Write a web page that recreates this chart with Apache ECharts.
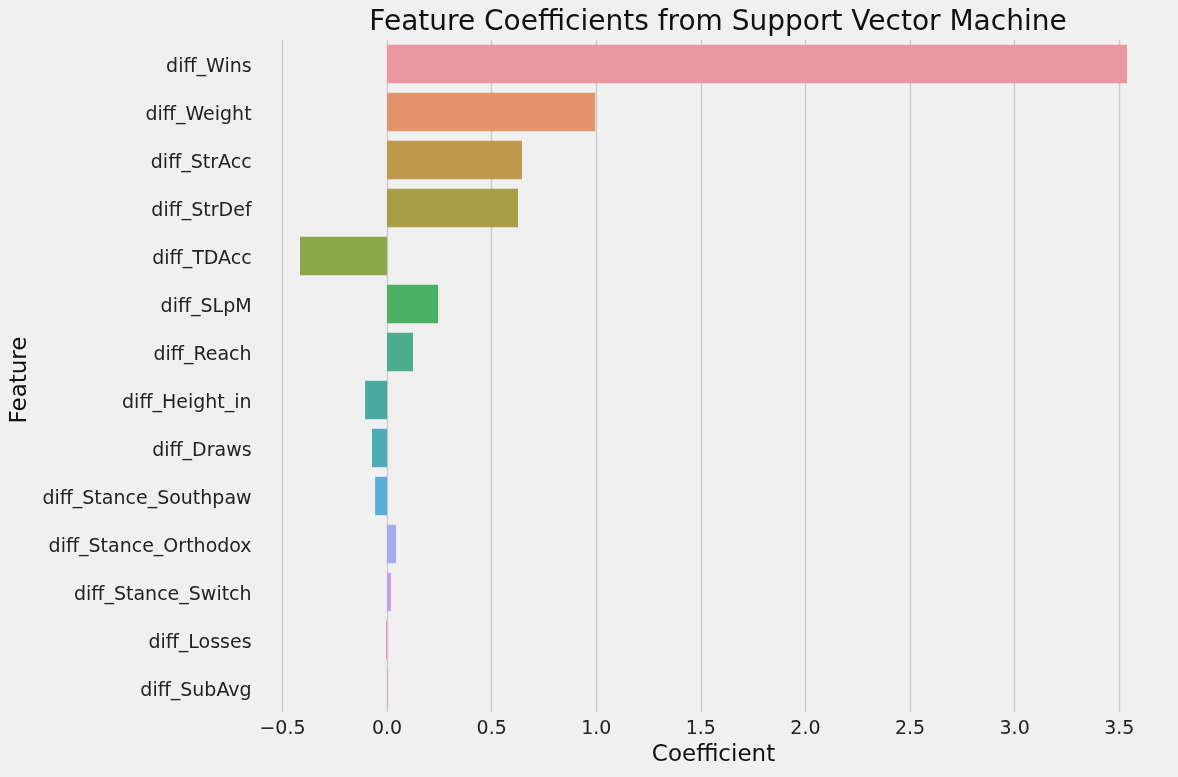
<!DOCTYPE html>
<html>
<head>
<meta charset="utf-8">
<script src="https://cdn.jsdelivr.net/npm/echarts@6/dist/echarts.min.js"></script>
<style>
html,body{margin:0;padding:0;background:#f0f0f0;}
#chart{width:1178px;height:777px;}
</style>
</head>
<body>
<div id="chart"></div>
<script>
const features = ['diff_Wins','diff_Weight','diff_StrAcc','diff_StrDef','diff_TDAcc','diff_SLpM','diff_Reach','diff_Height_in','diff_Draws','diff_Stance_Southpaw','diff_Stance_Orthodox','diff_Stance_Switch','diff_Losses','diff_SubAvg'];
const coefficients = [3.537, 0.995, 0.645, 0.626, -0.416, 0.244, 0.124, -0.105, -0.072, -0.057, 0.043, 0.019, -0.005, 0.003];
const xTicks = [-0.5, 0.0, 0.5, 1.0, 1.5, 2.0, 2.5, 3.0, 3.5];
const palette = ['#EB96A3','#E3946C','#C1994C','#A69F46','#8AA84A','#4BB063','#4BAD8E','#4BAAA0','#4EACB8','#59AED8','#A3ABEA','#C8A0E8','#E98CE3','#E68FBF'];

const chart = echarts.init(document.getElementById('chart'), null, {renderer:'canvas'});
const font = 'DejaVu Sans';
chart.setOption({
  backgroundColor:'#f0f0f0',
  animation:false,
  title:{
    text:'Feature Coefficients from Support Vector Machine',
    left:713, top:4, textAlign:'center',
    textStyle:{fontFamily:font,fontSize:28,fontWeight:'normal',color:'#111'}
  },
  grid:{left:258.6,right:9.6,top:40,bottom:65,containLabel:false},
  xAxis:{
    type:'value', min:-0.614, max:3.735,
    name:'Coefficient', nameLocation:'middle', nameGap:30,
    nameTextStyle:{fontFamily:font,fontSize:23,color:'#111',verticalAlign:'top'},
    axisLine:{show:false},
    axisTick:{show:false,customValues:xTicks},
    axisLabel:{customValues:xTicks,fontFamily:font,fontSize:19,color:'#222',margin:8,
      formatter:v=>v.toFixed(1).replace('-','\u2212')},
    splitLine:{show:true,lineStyle:{color:'#cbcbcb',width:1.4}}
  },
  yAxis:{
    type:'category', data:features, inverse:true,
    name:'Feature', nameLocation:'middle', nameGap:227, nameRotate:90,
    nameTextStyle:{fontFamily:font,fontSize:23,color:'#111',padding:[0,8,0,0]},
    axisLine:{show:false}, axisTick:{show:false},
    axisLabel:{fontFamily:font,fontSize:19,color:'#222',margin:7,verticalAlign:'top',lineHeight:7},
    splitLine:{show:false}
  },
  series:[{
    type:'bar',
    barCategoryGap:'20%',
    data:coefficients.map((v,i)=>({value:v,itemStyle:{color:palette[i]}}))
  }]
});
</script>
</body>
</html>
